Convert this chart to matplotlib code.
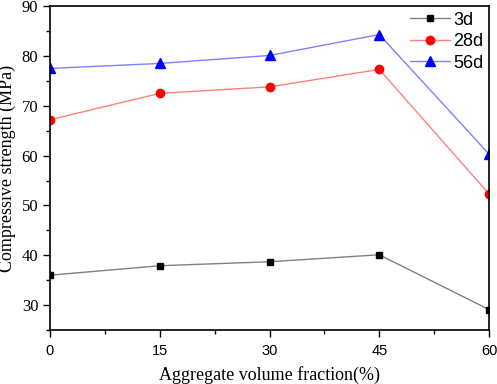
import matplotlib
matplotlib.use("Agg")
import matplotlib.pyplot as plt
from matplotlib.ticker import MultipleLocator

# Datos
fraccion = [0, 15, 30, 45, 60]
r3d = [36.0, 37.9, 38.7, 40.1, 29.1]
r28d = [67.2, 72.5, 73.8, 77.3, 52.3]
r56d = [77.5, 78.5, 80.1, 84.3, 60.3]

plt.rcParams["font.family"] = "Liberation Serif"

fig = plt.figure(figsize = (4.97, 3.84), dpi = 100)
ax = fig.add_axes([0.1006, 0.1406, 0.8834, 0.8434])

ax.plot(fraccion, r3d, color = "#808080", lw = 1, marker = "s", ms = 5,
        mfc = "black", mec = "black", label = "3d")
ax.plot(fraccion, r28d, color = "#ff8080", lw = 1, marker = "o", ms = 6,
        mfc = "red", mec = "red", label = "28d")
ax.plot(fraccion, r56d, color = "#8080ff", lw = 1, marker = "^", ms = 6.5,
        mfc = "blue", mec = "blue", label = "56d")

ax.set_xlim(0, 60)
ax.set_ylim(25, 90)
ax.set_xticks(fraccion)
ax.set_yticks([30, 40, 50, 60, 70, 80, 90])
ax.xaxis.set_minor_locator(MultipleLocator(7.5))
ax.yaxis.set_minor_locator(MultipleLocator(5))
ax.tick_params(which = "both", direction = "out", top = False, right = False)
ax.tick_params(which = "major", length = 5, width = 1)
ax.tick_params(which = "minor", length = 3, width = 1)
ax.tick_params(axis = "y", labelsize = 12)
# eje x con numeros sin serifa
ax.tick_params(axis = "x", pad = 5, labelsize = 10.5, labelfontfamily = "Liberation Sans")
for s in ax.spines.values():
    s.set_linewidth(1.2)

ax.set_xlabel("Aggregate volume fraction(%)", fontsize = 13, labelpad = 6)
ax.set_ylabel("Compressive strength (MPa)", fontsize = 13)

leg = ax.legend(loc = "upper right", frameon = False, prop = {"family": "Liberation Sans", "size": 13},
                borderaxespad = 0.0, borderpad = 0.3, handlelength = 2.2, labelspacing = 0.25,
                handletextpad = 0.2)

fig.savefig("out.png", dpi = 100)
